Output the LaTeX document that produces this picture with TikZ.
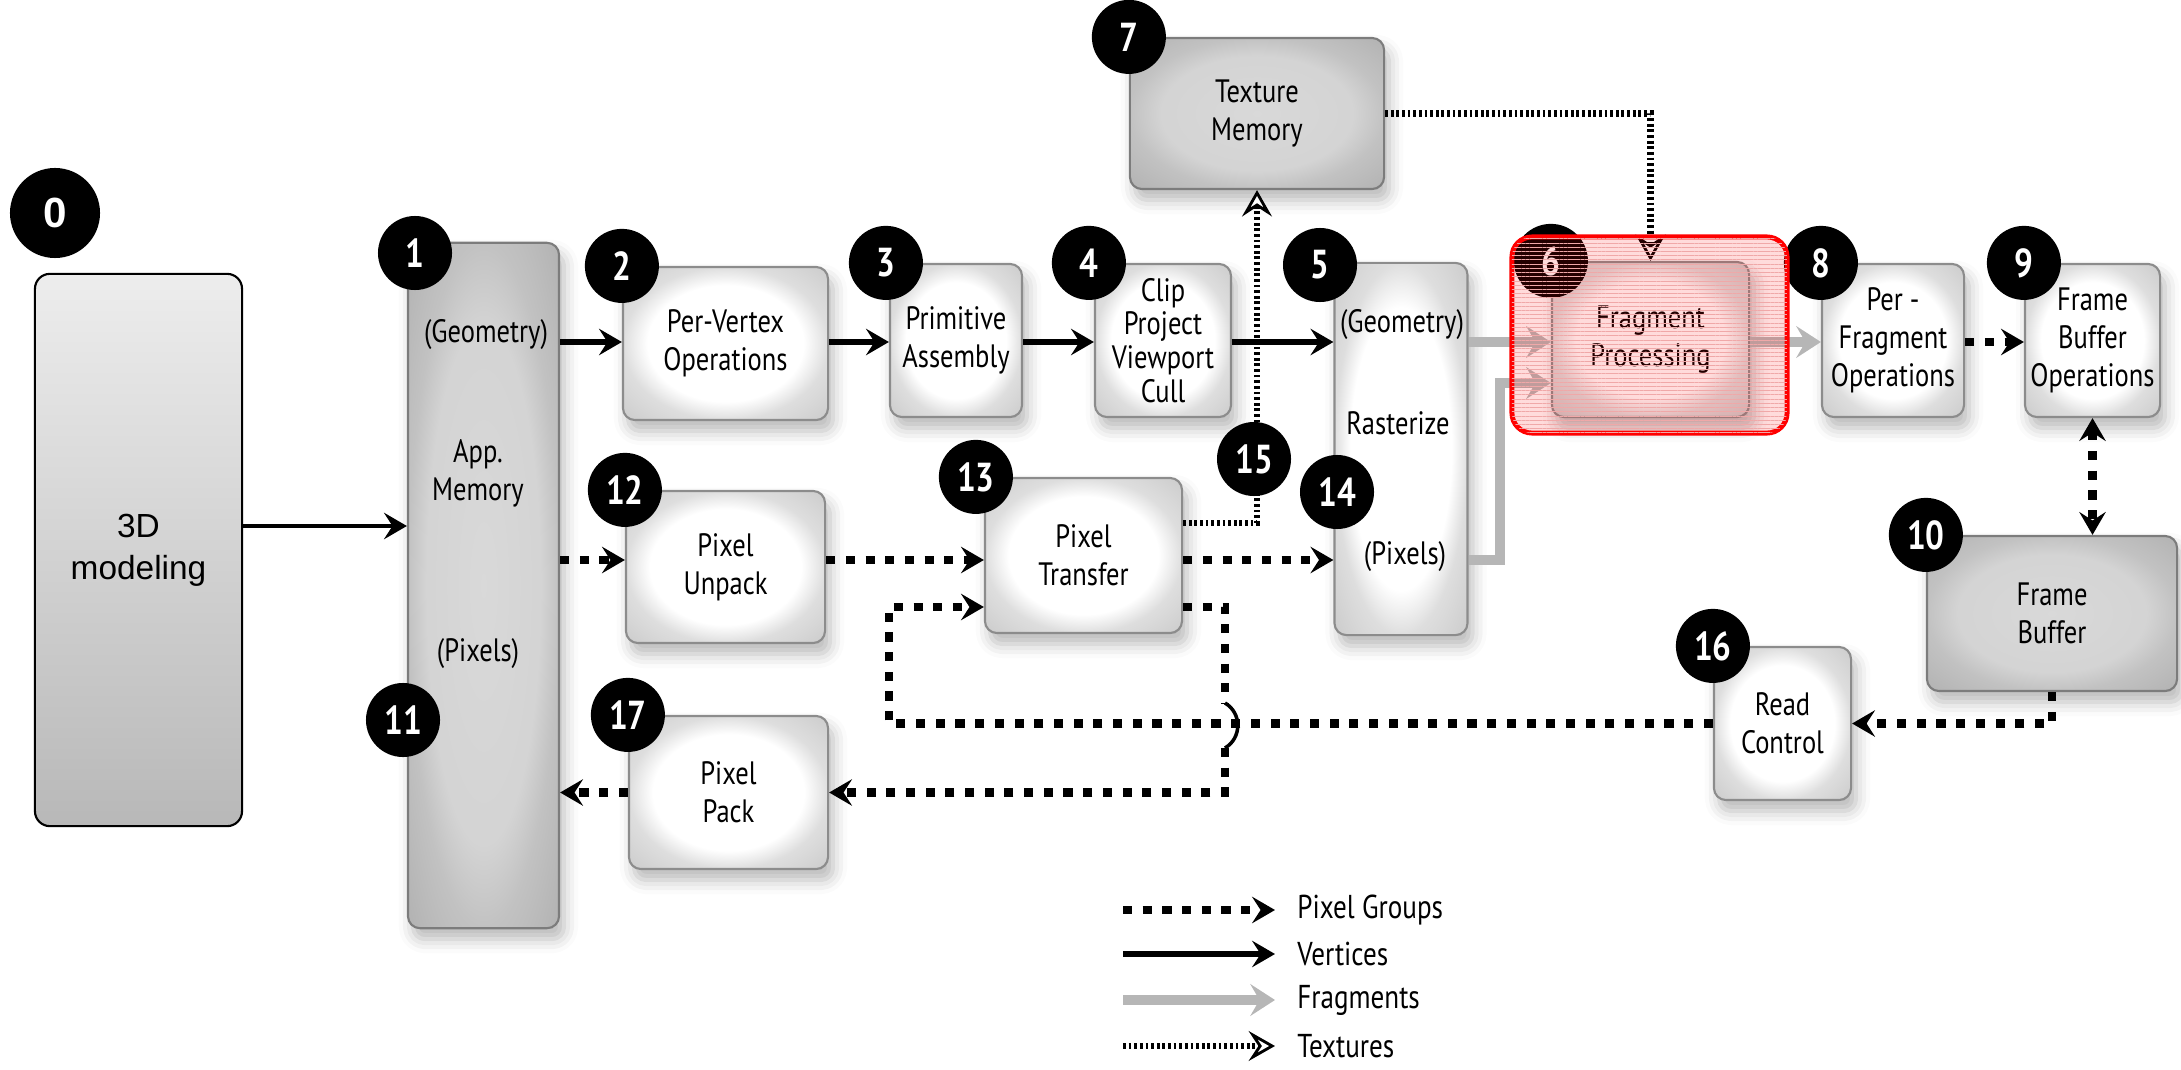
\documentclass[tikz,border=0pt]{standalone}
\usepackage{fontspec}
\setmainfont{Liberation Sans}
\newfontfamily\labelfont{PT Sans}[FakeStretch=0.82]
\usetikzlibrary{positioning, calc, arrows.meta, shadows.blur, patterns.meta}

\definecolor{StageEdge}{HTML}{8C8C8C}
\definecolor{MemEdge}  {HTML}{7C7C7C}
\definecolor{FragGray} {HTML}{B6B6B6}
\definecolor{ModelTop} {HTML}{EDEDED}
\definecolor{ModelBot} {HTML}{B8B8B8}
\definecolor{HiRed}    {HTML}{FF0000}
\definecolor{HiLine}   {HTML}{F0A8A8}

\pgfdeclareradialshading{stageglow}{\pgfpoint{0bp}{0bp}}{%
  color(0bp)=(white); color(19bp)=(white); color(25bp)=(black!13); color(35bp)=(black!20); color(50bp)=(black!20)}
\pgfdeclareradialshading{memglow}{\pgfpoint{0bp}{0bp}}{%
  color(0bp)=(black!15); color(19bp)=(black!17); color(25bp)=(black!24); color(35bp)=(black!30); color(50bp)=(black!30)}

\tikzset{
  every node/.style={font=\labelfont\fontsize{9.2}{10.8}\selectfont, align=center},
  pixhead/.tip={Stealth[length=6.5pt, width=7.5pt, inset=2.4pt]},
  vtxhead/.tip={Stealth[length=6.5pt, width=7.5pt, inset=2.4pt]},
  fraghead/.tip={Stealth[length=7pt, width=9pt, inset=2.6pt]},
  texhead/.tip={Stealth[open, fill=white, length=7.5pt, width=8.5pt, inset=2.8pt, line width=0.8pt]},
  % boxes
  stage/.style={draw=StageEdge, line width=0.6pt, rounded corners=1.2mm,
                shading=stageglow, inner sep=1pt,
                blur shadow={shadow xshift=0.5mm, shadow yshift=-1.1mm,
                             shadow blur radius=1.4mm, shadow opacity=28}},
  membox/.style={stage, shading=memglow, draw=MemEdge},
  modelbox/.style={draw=black, line width=0.6pt, rounded corners=1.5mm,
                   top color=ModelTop, bottom color=ModelBot,
                   font=\fontsize{9.5}{12}\selectfont},
  badge/.style={circle, fill=black, text=white, minimum size=0.74cm, inner sep=0pt,
                font=\labelfont\bfseries\fontsize{11.5}{10}\selectfont},
  srcbadge/.style={badge, minimum size=0.9cm, font=\bfseries\fontsize{12}{12}\selectfont},
  hilite/.style={draw=HiRed, line width=1.4pt, rounded corners=2mm,
                 fill=HiRed, fill opacity=0.14,
                 postaction={pattern={Lines[angle=0, distance=1.2pt, line width=0.2pt]},
                             pattern color=HiLine, fill opacity=0.35}},
  % connectors
  vtx/.style={line width=1.5pt, -vtxhead},
  pixline/.style={line width=2.4pt, dash pattern=on 2.6pt off 3.0pt},
  pix/.style={pixline, -pixhead},
  frag/.style={line width=2.8pt, draw=FragGray, -fraghead},
  tex/.style={line width=1.8pt, dash pattern=on 0.8pt off 0.8pt, -texhead},
  hop/.style={line width=1pt},
  legend/.style={anchor=west, font=\labelfont\fontsize{9.4}{10}\selectfont},
}

\begin{document}
\begin{tikzpicture}[x=0.01cm, y=-0.01cm]
\useasboundingbox (0,0) rectangle (2181,1070);

% rows and corners of the connectors
\coordinate (rowG)  at (0,342);
\coordinate (rowT)  at (0,523);
\coordinate (rowM)  at (0,526);
\coordinate (rowP)  at (0,560);
\coordinate (rowL)  at (0,607);
\coordinate (loopA) at (889,607);
\coordinate (fragA) at (1500,383);
\coordinate (hopA)  at (1225,703);
\coordinate (hopB)  at (1225,748);

% source
\node[modelbox, minimum width=2.07cm, minimum height=5.52cm] (model) at (138.5,550) {3D\\modeling};
\node[srcbadge] (b0) at (55,213) {0};

% application memory
\node[membox, minimum width=1.51cm, minimum height=6.85cm] (appmem) at (483.5,585.5) {};
\node (appgeo) at (486,335) {(Geometry)};
\node (apptxt) at (478,473) {App.\\Memory};
\node (apppix) at (478,654) {(Pixels)};

% geometry path
\node[stage, minimum width=2.05cm, minimum height=1.53cm] (pervertex) at (725.5,343.5) {Per-Vertex\\Operations};
\node[stage, minimum width=1.32cm, minimum height=1.53cm] (primitive) at (956,340.5) {Primitive\\Assembly};
\node[stage, minimum width=1.36cm, minimum height=1.53cm,
      font=\labelfont\fontsize{9.2}{9.6}\selectfont] (clip) at (1163,340.5) {Clip\\Project\\Viewport\\Cull};
\node[stage, minimum width=1.33cm, minimum height=3.72cm] (raster) at (1401,449) {};
\node (rasgeo) at (1402,325) {(Geometry)};
\node (rastxt) at (1398,423) {Rasterize};
\node (raspix) at (1405,557) {(Pixels)};
\node[membox, minimum width=2.54cm, minimum height=1.51cm] (texmem) at (1257,113.5) {Texture\\Memory};
\node[stage, minimum width=1.97cm, minimum height=1.55cm] (fragproc) at (1650.5,339.5) {Fragment\\Processing};
\node[stage, minimum width=1.42cm, minimum height=1.53cm] (perfrag) at (1893,340.5) {Per -\\Fragment\\Operations};
\node[stage, minimum width=1.35cm, minimum height=1.53cm] (fbops) at (2092.5,340.5) {Frame\\Buffer\\Operations};
\node[membox, minimum width=2.50cm, minimum height=1.55cm] (fbuf) at (2052,613.5) {Frame\\Buffer};
\node[stage, minimum width=1.37cm, minimum height=1.53cm] (readctl) at (1782.5,723.5) {Read\\Control};

% pixel path
\node[stage, minimum width=1.99cm, minimum height=1.52cm] (unpack) at (725.5,567) {Pixel\\Unpack};
\node[stage, minimum width=1.97cm, minimum height=1.55cm] (transfer) at (1083.5,555.5) {Pixel\\Transfer};
\node[stage, minimum width=1.99cm, minimum height=1.53cm] (pack) at (728.5,792.5) {Pixel\\Pack};

% vertices
\draw[vtx, line width=1.2pt] (model.east |- rowM) -- (appmem.west |- rowM);
\draw[vtx] (appmem.east |- rowG) -- (pervertex.west |- rowG);
\draw[vtx] (pervertex.east |- rowG) -- (primitive.west |- rowG);
\draw[vtx] (primitive.east |- rowG) -- (clip.west |- rowG);

% textures
\draw[tex] (transfer.east |- rowT) -| (texmem.south);
\draw[tex] (texmem.east) -| (fragproc.north);

\draw[vtx] (clip.east |- rowG) -- (raster.west |- rowG);

% fragments
\draw[frag] (raster.east |- rowG) -- (fragproc.west |- rowG);
\draw[frag] (raster.east |- rowP) -| (fragA) -- (fragproc.west |- fragA);
\draw[frag] (fragproc.east |- rowG) -- (perfrag.west |- rowG);

% pixel groups
\draw[pix] (appmem.east |- rowP) -- (unpack.west |- rowP);
\draw[pix] (unpack.east |- rowP) -- (transfer.west |- rowP);
\draw[pix] (transfer.east |- rowP) -- (raster.west |- rowP);
\draw[pix] (perfrag.east |- rowG) -- (fbops.west |- rowG);
\draw[pixline, pixhead-pixhead] (fbops.south) -- (fbops.south |- fbuf.north);
\draw[pix] (fbuf.south) |- (readctl.east);
\draw[pix] (readctl.west) -| (loopA) -- (transfer.west |- loopA);
\draw[pixline] (transfer.east |- rowL) -| (hopA);
\draw[hop] (hopA) .. controls +(17,10) and +(17,-10) .. (hopB);
\draw[pix] (hopB) |- (pack.east);
\draw[pix] (pack.west) -- (appmem.east |- pack.west);

% badges
\node[badge] (b1)  at (415,253) {1};
\node[badge] (b2)  at (pervertex.north west) {2};
\node[badge] (b3)  at ([xshift=-0.03cm]primitive.north west) {3};
\node[badge] (b4)  at ([xshift=-0.05cm]clip.north west) {4};
\node[badge] (b5)  at (1320,265) {5};
\node[badge] (b6)  at (fragproc.north west) {6};
\node[badge] (b7)  at (texmem.north west) {7};
\node[badge] (b8)  at (perfrag.north west) {8};
\node[badge] (b9)  at (fbops.north west) {9};
\node[badge] (b10) at (fbuf.north west) {10};
\node[badge] (b11) at (403,720) {11};
\node[badge] (b12) at (unpack.north west) {12};
\node[badge] (b13) at ([xshift=-0.08cm]transfer.north west) {13};
\node[badge] (b14) at (1337,492) {14};
\node[badge] (b15) at (1254,459) {15};
\node[badge] (b16) at (readctl.north west) {16};
\node[badge] (b17) at (pack.north west) {17};

% highlighted stage
\node[hilite, minimum width=2.75cm, minimum height=1.96cm] (focus) at (1649.5,335) {};

% legend
\node[legend] (lpix)  at (1285,910)  {Pixel Groups};
\node[legend] (lvtx)  at (1285,954)  {Vertices};
\node[legend] (lfrag) at (1285,1000) {Fragments};
\node[legend] (ltex)  at (1285,1046) {Textures};
\coordinate (lgpix)  at (1123,910);
\coordinate (lgvtx)  at (1123,954);
\coordinate (lgfrag) at (1123,1000);
\coordinate (lgtex)  at (1123,1046);
\draw[pix]  (lgpix)  -- ([xshift=-0.1cm]lpix.west);
\draw[vtx]  (lgvtx)  -- ([xshift=-0.1cm]lvtx.west);
\draw[frag] (lgfrag) -- ([xshift=-0.1cm]lfrag.west);
\draw[tex]  (lgtex)  -- ([xshift=-0.1cm]ltex.west);
\end{tikzpicture}
\end{document}
